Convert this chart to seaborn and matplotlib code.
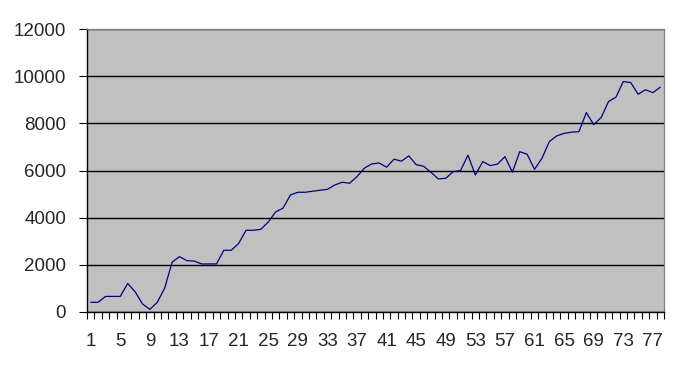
import numpy as np
import pandas as pd
import matplotlib
matplotlib.use("Agg")
import matplotlib.pyplot as plt
import seaborn as sns

categories = list(range(1, 79))
values = [400, 400, 650, 650, 650, 1200, 850, 330, 100, 400,
          1000, 2100, 2340, 2170, 2150, 2030, 2030, 2030, 2610, 2610,
          2900, 3460, 3460, 3500, 3810, 4240, 4400, 4960, 5075, 5075,
          5120, 5160, 5200, 5385, 5500, 5460, 5740, 6100, 6280, 6320,
          6140, 6480, 6395, 6620, 6250, 6180, 5925, 5640, 5670, 5950,
          6000, 6650, 5810, 6380, 6210, 6270, 6590, 5930, 6800, 6690,
          6050, 6520, 7230, 7470, 7580, 7630, 7650, 8460, 7950, 8250,
          8930, 9115, 9780, 9740, 9240, 9430, 9310, 9540]
x_tick_labels = [str(c) for c in range(1, 79, 4)]
y_ticks = [0, 2000, 4000, 6000, 8000, 10000, 12000]

df = pd.DataFrame({"cat": categories, "val": values})

sns.set_theme(style="white")
plt.rcParams['font.family'] = ['Liberation Sans', 'DejaVu Sans']

fig = plt.figure(figsize=(6.73, 3.66), dpi=100)
ax = fig.add_axes([87/673, 1-311.7/366, (664-87)/673, (311.7-29.3)/366])
ax.set_facecolor("#C0C0C0")

sns.lineplot(data=df, x="cat", y="val", ax=ax, color="#000080", linewidth=0.9)

ax.set_xlim(0.5, 78.5)
ax.set_ylim(0, 12000)
ax.set_yticks(y_ticks)
ax.set_yticklabels([str(v) for v in y_ticks], fontsize=13.5)
ax.set_xticks(list(range(1, 79, 4)))
ax.set_xticklabels(x_tick_labels, fontsize=13.5)
ax.set_xticks(np.arange(0.5, 79, 1.0), minor=True)
ax.tick_params(axis="x", which="both", bottom=True)
ax.tick_params(axis="y", which="both", left=True)
ax.tick_params(axis="x", which="major", length=0, pad=15)
ax.tick_params(axis="x", which="minor", length=5, width=0.8, color="black", direction="out")
ax.tick_params(axis="y", which="major", length=6, width=0.8, color="black", direction="out", pad=9)
ax.set_xlabel("")
ax.set_ylabel("")
ax.grid(axis="y", color="black", linewidth=1.0)
ax.set_axisbelow(True)
for s in ["left", "bottom"]:
    ax.spines[s].set_color("black")
    ax.spines[s].set_linewidth(1.0)
for s in ["top", "right"]:
    ax.spines[s].set_color("#808080")
    ax.spines[s].set_linewidth(0.9)

fig.savefig("out.png", dpi=100, facecolor="white")
